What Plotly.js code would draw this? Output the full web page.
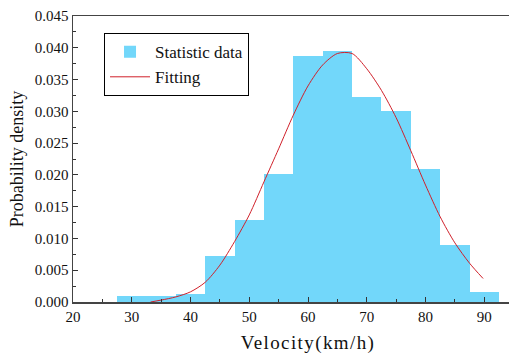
<!DOCTYPE html>
<html>
<head>
<meta charset="utf-8">
<script src="https://cdn.plot.ly/plotly-3.0.1.min.js"></script>
<style>
html, body { margin: 0; padding: 0; overflow: hidden; background: #fff; }
#chart { width: 543px; height: 356px; }
#chart .xtitle { letter-spacing: 1.4px; }
</style>
</head>
<body>
<div id="chart"></div>
<script>
// Histogram bins (centers, km/h) and probability density
const binCenters = [30, 35, 40, 45, 50, 55, 60, 65, 70, 75, 80, 85, 90];
const density = [0.0009, 0.0009, 0.0012, 0.0072, 0.0129, 0.0201, 0.0387, 0.0395, 0.0322, 0.0301, 0.0210, 0.0090, 0.0016];

// Fitted curve
const fitX = [33.2, 35, 37.5, 40, 42.5, 45, 47.5, 50, 52.5, 55, 57.5, 60, 62.5, 65, 67.5, 70, 72.5, 75, 77.5, 80, 82.5, 85, 87.5, 89.8];
const fitY = [0.0000, 0.0003, 0.0008, 0.0016, 0.0031, 0.0058, 0.0095, 0.0137, 0.0189, 0.0241, 0.0294, 0.0340, 0.0373, 0.0391, 0.0391, 0.0367, 0.0333, 0.0290, 0.0238, 0.0184, 0.0134, 0.0093, 0.0061, 0.0037];

const xTicks = [20, 30, 40, 50, 60, 70, 80, 90];

const serif = "'Liberation Serif', 'Times New Roman', serif";

const traces = [
  {
    type: 'bar',
    x: binCenters,
    y: density,
    width: 5,
    name: 'Statistic data',
    marker: { color: '#72D7FA', line: { width: 0 } },
    hoverinfo: 'x+y'
  },
  {
    type: 'scatter',
    mode: 'lines',
    x: fitX,
    y: fitY,
    name: 'Fitting',
    line: { color: '#D0202A', width: 1, shape: 'spline', smoothing: 0.8 }
  }
];

const layout = {
  width: 543,
  height: 356,
  margin: { l: 73, r: 0, t: 16, b: 54 },
  paper_bgcolor: '#ffffff',
  plot_bgcolor: '#ffffff',
  bargap: 0,
  font: { family: serif, color: '#111', size: 15 },
  showlegend: true,
  legend: {
    x: 0.066, y: 0.94, xanchor: 'left', yanchor: 'top',
    bgcolor: '#ffffff', bordercolor: '#000', borderwidth: 1,
    font: { family: serif, size: 17, color: '#111' },
    itemwidth: 40,
    tracegroupgap: 0
  },
  xaxis: {
    range: [20, 100],
    tickvals: xTicks,
    ticks: 'inside', ticklen: 5, tickwidth: 1, tickcolor: '#333',
    minor: { ticks: 'inside', dtick: 5, tick0: 20, ticklen: 3, tickcolor: '#333' },
    showline: true, linecolor: '#444', linewidth: 1.5, mirror: true,
    showgrid: false, zeroline: false,
    tickfont: { family: serif, size: 15, color: '#111' },
    title: { text: 'Velocity(km/h)', font: { family: serif, size: 19, color: '#111' }, standoff: 12 }
  },
  yaxis: {
    range: [0, 0.045],
    dtick: 0.005, tick0: 0,
    tickformat: '.3f',
    ticks: 'inside', ticklen: 5, tickwidth: 1, tickcolor: '#333',
    minor: { ticks: 'inside', dtick: 0.0025, ticklen: 3, tickcolor: '#333' },
    showline: true, linecolor: '#444', linewidth: 1.5,
    showgrid: false, zeroline: false,
    tickfont: { family: serif, size: 15, color: '#111' },
    title: { text: 'Probability density', font: { family: serif, size: 18, color: '#111' }, standoff: 6 }
  }
};

Plotly.newPlot('chart', traces, layout, { displayModeBar: false, staticPlot: true });
</script>
</body>
</html>
